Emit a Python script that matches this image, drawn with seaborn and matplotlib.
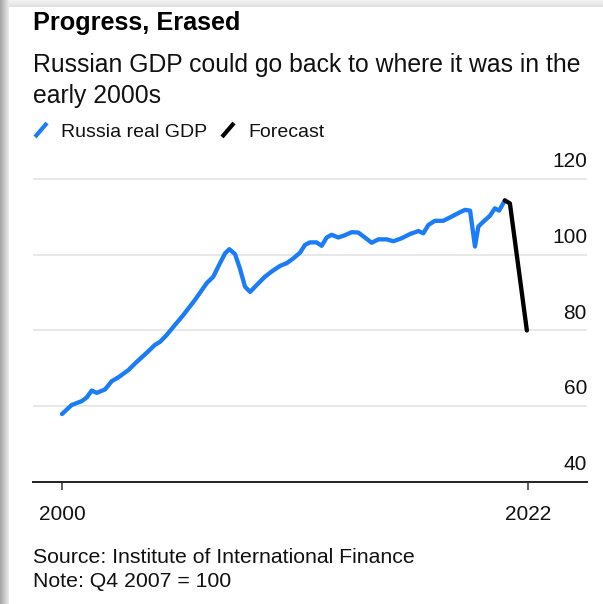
import numpy as np
import pandas as pd
import matplotlib
matplotlib.use("Agg")
import matplotlib.pyplot as plt
import seaborn as sns
from matplotlib.lines import Line2D
from matplotlib.transforms import blended_transform_factory

# ---------------- data ----------------
gdp_years = [2000.00, 2000.46, 2000.93, 2001.17, 2001.40, 2001.64, 2002.03, 2002.35,
             2002.66, 2003.13, 2003.53, 2004.00, 2004.39, 2004.63, 2004.94, 2005.34,
             2005.73, 2006.28, 2006.83, 2007.14, 2007.46, 2007.70, 2007.90, 2008.17,
             2008.40, 2008.64, 2008.88, 2009.19, 2009.58, 2009.90, 2010.30, 2010.61,
             2010.93, 2011.24, 2011.47, 2011.70, 2012.02, 2012.26, 2012.50, 2012.73,
             2013.05, 2013.36, 2013.68, 2013.99, 2014.30, 2014.62, 2014.94, 2015.33,
             2015.65, 2016.04, 2016.43, 2016.83, 2017.06, 2017.30, 2017.60, 2018.00,
             2018.39, 2018.80, 2019.03, 2019.27, 2019.50, 2019.66, 2019.90, 2020.20,
             2020.44, 2020.64, 2020.91]
gdp_values = [57.9, 60.3, 61.3, 62.3, 64.1, 63.5, 64.4, 66.6,
              67.6, 69.5, 71.7, 74.1, 76.2, 77.0, 78.8, 81.5,
              84.1, 88.1, 92.5, 94.2, 97.8, 100.4, 101.5, 100.2,
              96.4, 91.6, 90.2, 92.0, 94.2, 95.6, 97.1, 97.8,
              99.1, 100.6, 102.6, 103.3, 103.3, 102.4, 104.6, 105.3,
              104.6, 105.2, 106.0, 105.9, 104.6, 103.2, 104.1, 104.1,
              103.6, 104.4, 105.5, 106.3, 105.7, 107.9, 109.0, 109.0,
              110.1, 111.3, 111.9, 111.7, 102.2, 107.5, 108.8, 110.3,
              112.3, 111.7, 114.4]
forecast_years = [2020.91, 2021.15, 2021.95]
forecast_values = [114.4, 113.6, 80.0]

series_names = ["Russia real GDP", "Forecast"]
series_colors = ["#1a7cf7", "#000000"]
y_ticks = [40, 60, 80, 100, 120]
x_ticks = [2000, 2022]
x_tick_labels = ["2000", "2022"]

title = "Progress, Erased"
subtitle = "Russian GDP could go back to where it was in the\nearly 2000s"
source = "Source: Institute of International Finance"
note = "Note: Q4 2007 = 100"

df = pd.concat([
    pd.DataFrame({"year": gdp_years, "value": gdp_values, "series": series_names[0]}),
    pd.DataFrame({"year": forecast_years, "value": forecast_values, "series": series_names[1]}),
], ignore_index=True)

# ---------------- style ----------------
sns.set_style("white")
plt.rcParams["font.family"] = ["Liberation Sans", "DejaVu Sans"]

W, H = 603, 604
fig = plt.figure(figsize=(W / 100, H / 100), dpi=100)
fig.patch.set_facecolor("white")

def fy(px):
    return 1 - px / H

def fx(px):
    return px / W

# screenshot shadow on the left and top
grad_ax = fig.add_axes([0, 0, fx(9), 1])
grad = np.linspace(0.64, 0.93, 64).reshape(1, -1)
grad_ax.imshow(np.dstack([grad, grad, grad]), aspect="auto", extent=[0, 1, 0, 1])
grad_ax.axis("off")
top_ax = fig.add_axes([fx(9), fy(7), 1 - fx(9), 7 / H])
tg = np.linspace(0.95, 0.88, 16).reshape(-1, 1)
top_ax.imshow(np.dstack([tg, tg, tg]), aspect="auto", extent=[0, 1, 0, 1])
top_ax.axis("off")

# ---------------- main axes ----------------
ax_left, ax_right = 33, 587
ax_bottom, ax_top = 481.7, 149
ax = fig.add_axes([fx(ax_left), fy(ax_bottom), fx(ax_right - ax_left), (ax_bottom - ax_top) / H])

sns.lineplot(data=df, x="year", y="value", hue="series",
             palette=dict(zip(series_names, series_colors)),
             estimator=None, sort=False, linewidth=3.1, legend=False, ax=ax)
for ln in ax.get_lines():
    ln.set_solid_capstyle("round")
    ln.set_solid_joinstyle("round")

ax.set_xlim(1998.63, 2024.79)
ax.set_ylim(40, 128)
ax.set_xlabel("")
ax.set_ylabel("")

for s in ["top", "right", "left"]:
    ax.spines[s].set_visible(False)
ax.spines["bottom"].set_color("#222222")
ax.spines["bottom"].set_linewidth(1.4)
ax.spines["bottom"].set_zorder(5)

ax.set_yticks(y_ticks)
ax.set_yticklabels([])
ax.tick_params(axis="y", length=0)
ax.yaxis.grid(True, color="#e6e6e6", linewidth=1.3)
ax.xaxis.grid(False)
ax.set_axisbelow(True)

ax.set_xticks(x_ticks)
ax.set_xticklabels(x_tick_labels)
ax.tick_params(axis="x", length=6, width=1.1, color="#333333", pad=11,
               labelsize=15, labelcolor="#111111", direction="out", bottom=True)

trans = blended_transform_factory(ax.transAxes, ax.transData)
for v in y_ticks:
    ax.annotate(str(v), xy=(1.0, v), xycoords=trans, xytext=(0, 8.6),
                textcoords="offset points", ha="right", va="baseline",
                fontsize=15, color="#111111")

# ---------------- texts ----------------
fig.text(fx(33), fy(30), title, fontsize=18.2, fontweight="bold", color="#000000",
         ha="left", va="baseline")
fig.text(fx(33), fy(72), subtitle.split("\n")[0], fontsize=17.8, color="#111111",
         ha="left", va="baseline")
fig.text(fx(33), fy(103), subtitle.split("\n")[1], fontsize=17.8, color="#111111",
         ha="left", va="baseline")

# legend with slash markers
leg_y = 137
for (x0, name, col) in [(35, series_names[0], series_colors[0]),
                        (222, series_names[1], series_colors[1])]:
    fig.add_artist(Line2D([fx(x0), fx(x0 + 12)], [fy(leg_y), fy(leg_y - 14)],
                          transform=fig.transFigure, color=col, linewidth=3.0,
                          solid_capstyle="butt"))
    fig.text(fx(x0 + 26), fy(leg_y), name, fontsize=14.0, color="#111111",
             ha="left", va="baseline")

fig.text(fx(33), fy(563), source, fontsize=15.3, color="#111111", ha="left", va="baseline")
fig.text(fx(33), fy(587), note, fontsize=15.3, color="#111111", ha="left", va="baseline")

fig.savefig("out.png", dpi=100)
